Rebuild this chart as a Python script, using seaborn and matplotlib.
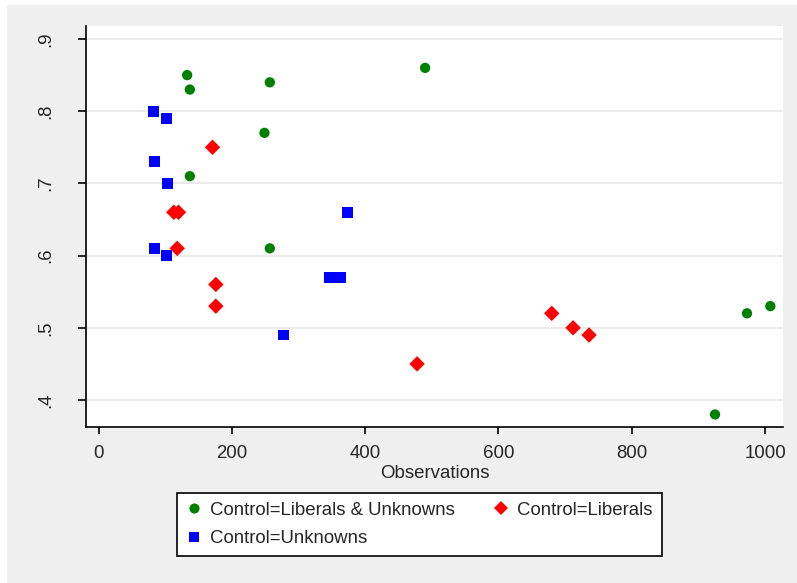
import matplotlib
matplotlib.use("Agg")
import matplotlib.pyplot as plt
from matplotlib.patches import Rectangle
from matplotlib.lines import Line2D
import seaborn as sns
import pandas as pd

# values
both_x = [133, 137, 257, 490, 249, 137, 257, 925, 973, 1008]
both_y = [0.85, 0.83, 0.84, 0.86, 0.77, 0.71, 0.61, 0.38, 0.52, 0.53]
lib_x = [171, 113, 120, 118, 176, 176, 478, 680, 712, 736]
lib_y = [0.75, 0.66, 0.66, 0.61, 0.56, 0.53, 0.45, 0.52, 0.50, 0.49]
unk_x = [82, 102, 84, 104, 84, 102, 374, 347, 363, 278]
unk_y = [0.80, 0.79, 0.73, 0.70, 0.61, 0.60, 0.66, 0.57, 0.57, 0.49]

labels = ["Control=Liberals & Unknowns", "Control=Liberals", "Control=Unknowns"]
colors = ["#008000", "#ff0000", "#0000ff"]
markers = ["o", "D", "s"]
sizes = [55, 62, 62]

df = pd.concat([
    pd.DataFrame({"obs": both_x, "val": both_y, "group": labels[0]}),
    pd.DataFrame({"obs": lib_x, "val": lib_y, "group": labels[1]}),
    pd.DataFrame({"obs": unk_x, "val": unk_y, "group": labels[2]}),
])

sns.set_theme(style="white")
plt.rcParams["font.family"] = ["Liberation Sans", "DejaVu Sans"]

fig = plt.figure(figsize=(7.97, 5.83), dpi=100, facecolor="white")
fig.patches.append(Rectangle((7 / 797, 0), 1, 1 - 5 / 583, transform=fig.transFigure,
                             facecolor="#efefef", edgecolor="none", zorder=-10))
ax = fig.add_axes([86 / 797, 1 - 427 / 583, (783 - 86) / 797, (427 - 26) / 583])
ax.set_facecolor("white")

for lab, c, m, s in zip(labels, colors, markers, sizes):
    sub = df[df["group"] == lab]
    sns.scatterplot(data=sub, x="obs", y="val", color=c, marker=m, s=s,
                    edgecolor="none", linewidth=0, ax=ax, legend=False, zorder=3)

ax.set_xlim(-18.8, 1027)
ax.set_ylim(0.3626, 0.918)
ax.set_xticks([0, 200, 400, 600, 800, 1000])
ax.set_yticks([0.4, 0.5, 0.6, 0.7, 0.8, 0.9])
ax.set_yticklabels([".4", ".5", ".6", ".7", ".8", ".9"], rotation=90, va="center")
ax.grid(axis="y", color="#e6e6e6", linewidth=1.2, zorder=0)
ax.grid(axis="x", visible=False)
for side in ["top", "right"]:
    ax.spines[side].set_visible(False)
for side in ["left", "bottom"]:
    ax.spines[side].set_color("black")
    ax.spines[side].set_linewidth(1.2)
ax.tick_params(axis="y", length=6, width=1.2, color="black", pad=17, labelsize=13.4, left=True)
ax.tick_params(axis="x", length=5, width=1.2, color="black", pad=8, labelsize=13.4, bottom=True)
ax.set_xlabel("Observations", fontsize=13.4, labelpad=2)
ax.set_ylabel("")

handles = [Line2D([], [], linestyle="none", marker=m, color=c, markersize=ms, markeredgewidth=0)
           for m, c, ms in zip(markers, colors, [7.3, 7.5, 7.5])]
order = [0, 2, 1]
leg = fig.legend([handles[i] for i in order], [labels[i] for i in order], ncol=2,
                 loc="center", bbox_to_anchor=(0.5264, 0.1003), fontsize=13.4,
                 frameon=True, fancybox=False, edgecolor="black", facecolor="white",
                 framealpha=1, handlelength=0.8, handletextpad=0.5, columnspacing=2.05,
                 labelspacing=0.6, borderpad=0.5, borderaxespad=0)
leg.get_frame().set_linewidth(1.2)

fig.savefig("out.png", dpi=100, facecolor=fig.get_facecolor())
